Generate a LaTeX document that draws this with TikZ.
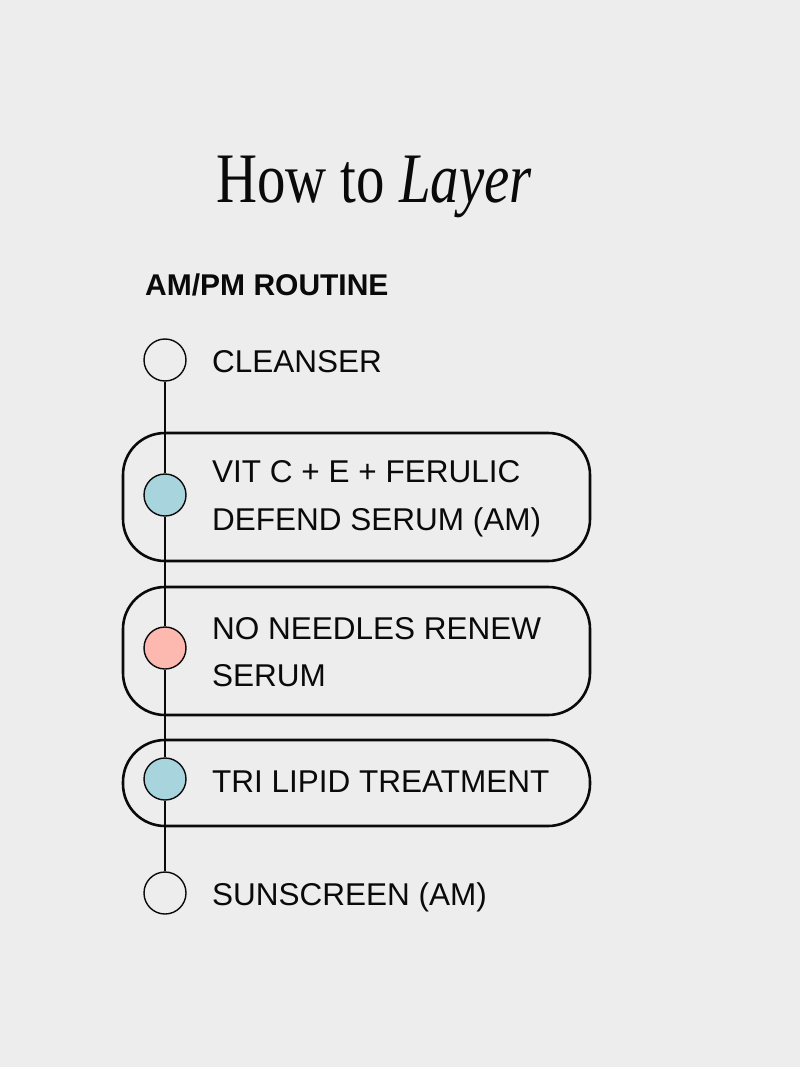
\documentclass[tikz,border=0pt]{standalone}
\usepackage{fontspec}
\setmainfont{Liberation Sans}
\newfontfamily\titlefont{Liberation Serif}
\definecolor{bg}{HTML}{EDEDED}
\definecolor{ink}{HTML}{0A0A0A}
\definecolor{dotblue}{HTML}{A8D5DD}
\definecolor{dotpink}{HTML}{FDB8B0}
\begin{document}
\begin{tikzpicture}[x=1pt,y=-1pt,
  stepbox/.style={draw=ink,line width=2.6pt,rounded corners=42pt},
  dot/.style={circle,draw=ink,line width=1.4pt,minimum size=42pt,inner sep=0pt},
  label/.style={anchor=base west,inner sep=0pt,text=ink,font=\fontsize{31.5}{38}\selectfont},
  link/.style={draw=ink,line width=1.5pt}]
\fill[bg] (0,0) rectangle (800,1067);
\useasboundingbox (0,0) rectangle (800,1067);
% title
\node[anchor=base west,inner sep=0pt,text=ink] (title) at (216,203)
  {\scalebox{0.8}[1]{\titlefont\fontsize{71}{80}\selectfont How to \textit{Layer}}};
\node[anchor=base west,inner sep=0pt,text=ink,font=\bfseries\fontsize{30}{34}\selectfont] (sub) at (145,295) {AM/PM ROUTINE};
% boxes
\draw[stepbox] (123,433) rectangle (590,561);
\draw[stepbox] (123,587) rectangle (590,715);
\draw[stepbox] (123,740) rectangle (590,826);
% dots
\node[dot,fill=bg] (c1) at (165,360) {};
\node[dot,fill=dotblue] (c2) at (165,495) {};
\node[dot,fill=dotpink] (c3) at (165,648) {};
\node[dot,fill=dotblue] (c4) at (165,779) {};
\node[dot,fill=bg] (c5) at (165,893) {};
\draw[link] (c1.south) -- (c2.north);
\draw[link] (c2.south) -- (c3.north);
\draw[link] (c3.south) -- (c4.north);
\draw[link] (c4.south) -- (c5.north);
% labels
\node[label] (t1) at (212,372) {CLEANSER};
\node[label] (t2a) at (212,482) {VIT C + E + FERULIC};
\node[label] (t2b) at (212,530) {DEFEND SERUM (AM)};
\node[label] (t3a) at (212,639) {NO NEEDLES RENEW};
\node[label] (t3b) at (212,686) {SERUM};
\node[label] (t4) at (212,792) {TRI LIPID TREATMENT};
\node[label] (t5) at (212,905) {SUNSCREEN (AM)};
\end{tikzpicture}
\end{document}
